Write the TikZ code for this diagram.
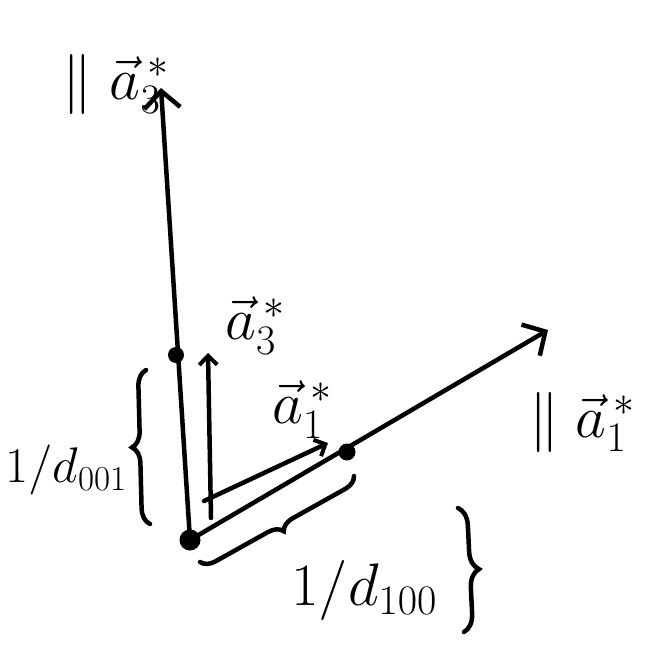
\RequirePackage{fix-cm}
\documentclass[tikz,border=0pt]{standalone}
\usepackage{amsmath}
\usepackage{amssymb}
\usetikzlibrary{arrows.meta,decorations.pathreplacing}

\begin{document}
\begin{tikzpicture}[x=1pt,y=-1pt,line width=4.5pt,line cap=round,
  axis/.style={-{Straight Barb[length=17pt,width=36pt,line width=4.5pt]}},
  vec/.style={-{Straight Barb[length=9pt,width=18pt,line width=4pt]}},
  dot/.style={circle,fill=black,inner sep=0pt,minimum size=#1},
  curly/.style={decorate,decoration={brace,amplitude=#1}},
  lbl/.style={inner sep=0pt,font=\fontsize{60}{64}\selectfont}]
  \useasboundingbox (0,0) rectangle (662,646);
  \node[dot=21pt] (O) at (190,540) {};
  \node[dot=16pt] (P001) at (176,355) {};
  \node[dot=17pt] (P100) at (347,452) {};
  \coordinate (c3) at (161,88);
  \coordinate (c1) at (548,330);
  \draw[axis] (O.center) -- (c3);
  \draw[axis] (O.center) -- (c1);
  \coordinate (s3) at (211,518);
  \coordinate (e3) at (208,353);
  \coordinate (s1) at (204,501);
  \coordinate (e1) at (328,443);
  \draw[vec] (s3) -- (e3);
  \draw[vec] (s1) -- (e1);
  \coordinate (b0) at (200,562);
  \coordinate (b1) at (354,476);
  \draw[curly=16pt] (150,524) -- (146,370);
  \draw[curly=14pt] (b1) -- (b0);
  \draw[curly=18pt] (458,508) -- (464,632);
  \node[lbl] (l3) at (116,84) {$\parallel\vec{a}_3^{\,*}$};
  \node[lbl] (k3) at (255,326) {$\vec{a}_3^{\,*}$};
  \node[lbl] (k1) at (302,410) {$\vec{a}_1^{\,*}$};
  \node[lbl] (l1) at (582,422) {$\parallel\vec{a}_1^{\,*}$};
  \node[lbl,font=\fontsize{50}{54}\selectfont] (d001) at (66,470) {$1/d_{001}$};
  \node[lbl] (d100) at (364,590) {$1/d_{100}$};
\end{tikzpicture}
\end{document}
